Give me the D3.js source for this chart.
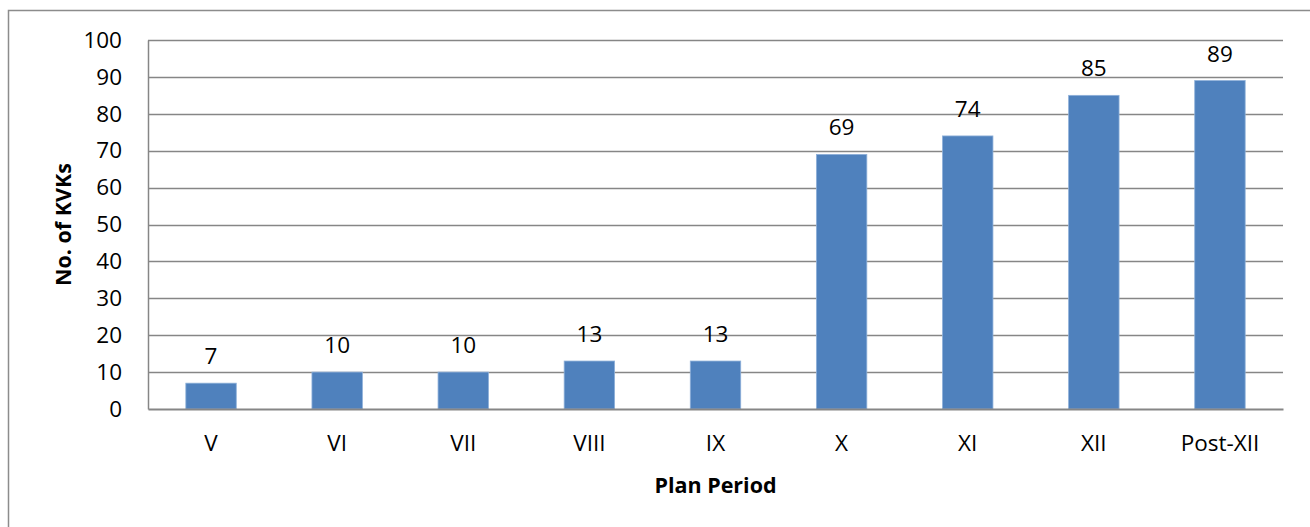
<!DOCTYPE html>
<html>
<head>
<meta charset="utf-8">
<script src="https://cdn.jsdelivr.net/npm/d3@7"></script>
<style>
  html, body { margin: 0; padding: 0; background: #fff; }
  svg { display: block; }
  text { font-family: "Open Sans", "Lato", sans-serif; fill: #000; }
</style>
</head>
<body>
<svg id="chart" width="1310" height="527"></svg>
<script>
// KVKs established per Five-Year Plan period
const categories = ["V", "VI", "VII", "VIII", "IX", "X", "XI", "XII", "Post-XII"];
const kvkCounts = [7, 10, 10, 13, 13, 69, 74, 85, 89];
const yTicks = [0, 10, 20, 30, 40, 50, 60, 70, 80, 90, 100];
const xTitle = "Plan Period";
const yTitle = "No. of KVKs";

const svg = d3.select("#chart");
const W = 1310, H = 527;
const plot = { left: 148, right: 1283, top: 40, bottom: 409 };
const fontSize = 22.5;

// outer chart frame
svg.append("rect")
  .attr("x", 8.5).attr("y", 10.5)
  .attr("width", W).attr("height", H)
  .attr("fill", "none").attr("stroke", "#8c8c8c").attr("stroke-width", 1.5);

const x = d3.scaleBand().domain(categories).range([plot.left, plot.right]).padding(0);
const y = d3.scaleLinear().domain([0, 100]).range([plot.bottom, plot.top]);

// horizontal gridlines
svg.append("g")
  .selectAll("line")
  .data(yTicks.filter(d => d > 0))
  .join("line")
  .attr("x1", plot.left).attr("x2", plot.right)
  .attr("y1", d => Math.round(y(d)) + 0.5).attr("y2", d => Math.round(y(d)) + 0.5)
  .attr("stroke", "#868686").attr("stroke-width", 1.5);

// y axis
const yAxis = svg.append("g")
  .attr("transform", `translate(${plot.left},0)`)
  .call(d3.axisLeft(y).tickValues(yTicks).tickSize(0).tickPadding(26));
yAxis.select(".domain").attr("stroke", "#868686").attr("stroke-width", 1.5);
yAxis.selectAll("text")
  .attr("font-family", "Open Sans").attr("font-size", fontSize).attr("fill", "#000");

// bars
const barW = x.bandwidth() * 0.4;
svg.append("g")
  .selectAll("rect")
  .data(categories.map((c, i) => ({ c, v: kvkCounts[i] })))
  .join("rect")
  .attr("x", d => x(d.c) + (x.bandwidth() - barW) / 2)
  .attr("y", d => y(d.v))
  .attr("width", barW)
  .attr("height", d => y(0) - y(d.v))
  .attr("fill", "#4f81bd")
  .attr("stroke", "#8eb0d9").attr("stroke-width", 0.8);

// x axis
const xAxis = svg.append("g")
  .attr("transform", `translate(0,${plot.bottom})`)
  .call(d3.axisBottom(x).tickSize(0).tickPadding(26));
xAxis.select(".domain").attr("stroke", "#868686").attr("stroke-width", 1.8);
xAxis.selectAll("text")
  .attr("font-family", "Open Sans").attr("font-size", fontSize).attr("fill", "#000");

// value labels
svg.append("g")
  .selectAll("text")
  .data(categories.map((c, i) => ({ c, v: kvkCounts[i] })))
  .join("text")
  .attr("x", d => x(d.c) + x.bandwidth() / 2)
  .attr("y", d => y(d.v) - 19)
  .attr("text-anchor", "middle")
  .attr("font-size", fontSize)
  .text(d => d.v);

// axis titles
svg.append("text")
  .attr("x", (plot.left + plot.right) / 2)
  .attr("y", 493)
  .attr("text-anchor", "middle")
  .attr("font-size", 21.5).attr("font-weight", "bold")
  .text(xTitle);

svg.append("text")
  .attr("transform", `translate(71,${(plot.top + plot.bottom) / 2}) rotate(-90)`)
  .attr("text-anchor", "middle")
  .attr("font-size", 21.5).attr("font-weight", "bold")
  .text(yTitle);
</script>
</body>
</html>
